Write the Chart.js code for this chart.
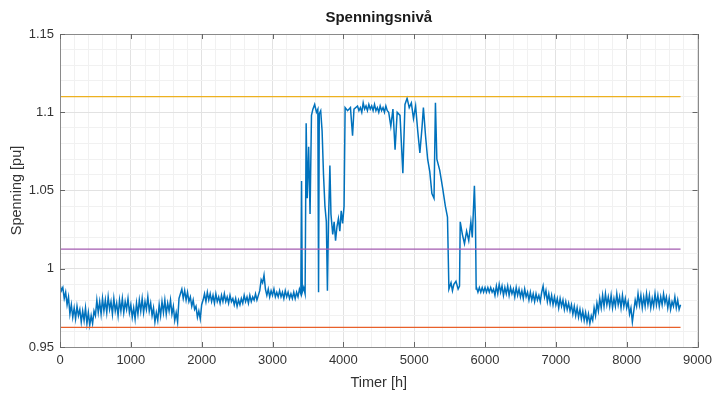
<!DOCTYPE html>
<html>
<head>
<meta charset="utf-8">
<script src="https://cdn.jsdelivr.net/npm/chart.js@4"></script>
<style>
html,body{margin:0;padding:0;background:#fff;overflow:hidden;}
canvas{display:block;}
</style>
</head>
<body>
<canvas id="mycanvas" width="718" height="393"></canvas>
<script>
// values (hour, voltage in pu), in three parts

// part 1: before the high period
var hoursA = [0,20,40,60,80,100,120,140,160,180,200,220,240,260,280,300,320,340,360,380,400,420,440,460,480,500,520,540,560,580,600,620,640,660,680,700,720,740,760,780,800,820,840,860,880,900,920,940,960,980,
  1000,1020,1040,1060,1080,1100,1120,1140,1160,1180,1200,1220,1240,1260,1280,1300,1320,1340,1360,1380,1400,1420,1440,1460,1480,1500,1520,1540,1560,1580,1600,1620,1640,1660,1680,1700,1720,1740,1760,1780,1800,1820,1840,1860,1880,1900,1920,1940,1960,1980,
  2000,2020,2040,2060,2080,2100,2120,2140,2160,2180,2200,2220,2240,2260,2280,2300,2320,2340,2360,2380,2400,2420,2440,2460,2480,2500,2520,2540,2560,2580,2600,2620,2640,2660,2680,2700,2720,2740,2760,2780,2800,2820,2840,2860,2880,2900,2920,2940,2960,2980,
  3000,3020,3040,3060,3080,3100,3120,3140,3160,3180,3200,3220,3240,3260,3280,3300,3320,3340,3360,3380,3400];
var spenningA = [0.990,0.986,0.988,0.981,0.985,0.977,0.982,0.971,0.977,0.969,0.975,0.968,0.976,0.970,0.974,0.966,0.973,0.967,0.975,0.965,0.972,0.964,0.970,0.965,0.973,0.970,0.980,0.972,0.979,0.971,0.981,0.973,0.980,0.972,0.982,0.974,0.979,0.971,0.981,0.973,0.978,0.970,0.980,0.973,0.981,0.972,0.979,0.974,0.981,0.972,
  0.977,0.969,0.975,0.968,0.978,0.971,0.980,0.973,0.981,0.972,0.979,0.974,0.982,0.973,0.978,0.970,0.975,0.966,0.972,0.967,0.977,0.970,0.979,0.972,0.980,0.971,0.978,0.973,0.980,0.971,0.976,0.967,0.972,0.966,0.981,0.984,0.987,0.981,0.986,0.980,0.985,0.979,0.982,0.976,0.980,0.974,0.976,0.969,0.973,0.968,
  0.977,0.980,0.984,0.979,0.985,0.980,0.984,0.979,0.983,0.978,0.984,0.979,0.982,0.978,0.983,0.979,0.984,0.979,0.982,0.978,0.983,0.979,0.981,0.977,0.981,0.976,0.980,0.977,0.981,0.978,0.983,0.979,0.982,0.978,0.983,0.979,0.982,0.980,0.984,0.980,0.983,0.986,0.993,0.991,0.996,0.987,0.983,0.987,0.982,0.986,
  0.983,0.987,0.982,0.985,0.982,0.986,0.982,0.985,0.981,0.986,0.982,0.985,0.981,0.984,0.981,0.985,0.981,0.985,0.982,0.987,0.984];

// part 2: the high period with jumps
var hoursB = [3410,3420,3440,3460,3475,3490,3510,3530,3550,3570,3595,3620,3640,3650,3660,3680,3700,3720,3740,3760,3775,3790,3810,3825,3850,3870,3890,3910,3930,3950,3970,3990,4010,
  4025,4060,4100,4130,4150,4200,4220,4240,4260,4280,4300,4320,4340,4360,4380,4400,4420,4440,4460,4480,4500,4520,4540,4560,4580,4600,4620,4640,4670,4700,4730,4760,4800,4840,4870,4900,4930,4960,4990,5020,5050,5080,5110,5130,5160,5190,5220,5250,5280,5300,5320,5360,5400,5440,5470,
  5490,5520,5540,5560,5590,5620,5640,5650,5680,5710,5740,5770,5800,5820,5850,5865,5875];
var spenningB = [1.056,0.985,0.988,0.984,1.093,1.045,1.078,1.035,1.098,1.102,1.105,1.100,1.102,0.985,1.099,1.101,1.088,1.060,1.040,1.030,0.986,1.030,1.066,1.035,1.022,1.030,1.018,1.027,1.032,1.024,1.037,1.029,1.040,
  1.103,1.101,1.103,1.085,1.102,1.104,1.101,1.103,1.100,1.106,1.102,1.104,1.101,1.105,1.102,1.104,1.101,1.105,1.101,1.103,1.100,1.104,1.101,1.103,1.100,1.104,1.101,1.100,1.091,1.102,1.076,1.100,1.098,1.061,1.105,1.109,1.103,1.106,1.096,1.104,1.088,1.074,1.090,1.103,1.085,1.070,1.062,1.048,1.045,1.106,1.070,1.063,1.052,1.040,1.033,
  0.987,0.991,0.986,0.990,0.992,0.987,0.989,1.030,1.022,1.016,1.024,1.018,1.030,1.020,1.053,1.030,0.987];

// part 3: after the high period
var hoursC = [5880,5900,5920,5940,5960,5980,6000,6020,6040,6060,6080,6100,6120,6140,6160,6180,6200,6220,6240,6260,6280,6300,6320,6340,6360,6380,6400,6420,6440,6460,6480,6500,6520,6540,6560,6580,6600,6620,6640,6660,6680,6700,6720,6740,6760,6780,6800,6820,6840,6860,6880,6900,6920,6940,6960,6980,
  7000,7020,7040,7060,7080,7100,7120,7140,7160,7180,7200,7220,7240,7260,7280,7300,7320,7340,7360,7380,7400,7420,7440,7460,7480,7500,7520,7540,7560,7580,7600,7620,7640,7660,7680,7700,7720,7740,7760,7780,7800,7820,7840,7860,7880,7900,7920,7940,7960,7980,
  8000,8020,8040,8060,8080,8100,8120,8140,8160,8180,8200,8220,8240,8260,8280,8300,8320,8340,8360,8380,8400,8420,8440,8460,8480,8500,8520,8540,8560,8580,8600,8620,8640,8660,8680,8700,8720,8740,8760];
var spenningC = [0.988,0.985,0.988,0.985,0.988,0.985,0.988,0.985,0.988,0.985,0.988,0.985,0.987,0.983,0.989,0.984,0.990,0.985,0.989,0.983,0.988,0.984,0.989,0.983,0.988,0.984,0.987,0.982,0.988,0.983,0.987,0.982,0.986,0.981,0.987,0.982,0.985,0.980,0.985,0.980,0.984,0.979,0.984,0.980,0.983,0.979,0.985,0.989,0.982,0.986,0.979,0.984,0.978,0.983,0.977,0.982,
  0.977,0.981,0.975,0.981,0.976,0.980,0.974,0.979,0.974,0.978,0.973,0.977,0.971,0.976,0.970,0.975,0.969,0.974,0.968,0.973,0.967,0.972,0.966,0.971,0.965,0.970,0.967,0.975,0.970,0.978,0.973,0.981,0.975,0.983,0.976,0.984,0.977,0.982,0.976,0.983,0.975,0.981,0.976,0.984,0.977,0.982,0.975,0.983,0.976,0.981,
  0.975,0.979,0.971,0.975,0.966,0.973,0.980,0.976,0.984,0.977,0.983,0.975,0.982,0.976,0.984,0.977,0.983,0.975,0.981,0.976,0.984,0.977,0.983,0.976,0.982,0.977,0.984,0.978,0.982,0.975,0.981,0.974,0.979,0.976,0.982,0.975,0.980,0.974,0.977];

// limit lines
var limitStart = 0, limitEnd = 8760;
var upper = 1.11;
var middle = 1.0125;
var lower = 0.9625;

var xTicks = [0,1000,2000,3000,4000,5000,6000,7000,8000,9000];
var yTicks = [0.95,1,1.05,1.1,1.15];

var hours = hoursA.concat(hoursB, hoursC);
var spenning = spenningA.concat(spenningB, spenningC);
var pts = [];
for (var i = 0; i < hours.length; i++) {
  pts.push({x: hours[i], y: spenning[i]});
}
function flat(v){ return [{x: limitStart, y: v}, {x: limitEnd, y: v}]; }

var isMajorY = function(v){ return Math.abs(Math.round(v*100) % 5) === 0; };
var isMajorX = function(v){ return Math.round(v) % 1000 === 0; };

var boxPlugin = {
  id: 'box',
  afterDraw: function(chart){
    var c = chart.ctx, a = chart.chartArea;
    var xs = chart.scales.x, ys = chart.scales.y;
    c.save();
    c.strokeStyle = '#8a8a8a';
    c.lineWidth = 1;
    c.strokeRect(Math.round(a.left)+0.5, Math.round(a.top)+0.5, Math.round(a.right-a.left), Math.round(a.bottom-a.top));
    // inward tick marks
    c.strokeStyle = '#666';
    xTicks.forEach(function(t){
      var px = Math.round(xs.getPixelForValue(t))+0.5;
      c.beginPath(); c.moveTo(px, a.bottom); c.lineTo(px, a.bottom-5);
      c.moveTo(px, a.top); c.lineTo(px, a.top+5); c.stroke();
    });
    yTicks.forEach(function(t){
      var py = Math.round(ys.getPixelForValue(t))+0.5;
      c.beginPath(); c.moveTo(a.left, py); c.lineTo(a.left+5, py);
      c.moveTo(a.right, py); c.lineTo(a.right-5, py); c.stroke();
    });
    // titles
    c.fillStyle = '#1a1a1a';
    c.textAlign = 'center';
    c.textBaseline = 'middle';
    c.font = 'bold 15px "Liberation Sans", Arial, sans-serif';
    c.fillText('Spenningsnivå', (a.left+a.right)/2, 18);
    c.fillStyle = '#333';
    c.font = '14.5px "Liberation Sans", Arial, sans-serif';
    c.fillText('Timer [h]', (a.left+a.right)/2, 383);
    c.translate(17, (a.top+a.bottom)/2);
    c.rotate(-Math.PI/2);
    c.fillText('Spenning [pu]', 0, 0);
    c.restore();
  }
};

var ctx = document.getElementById('mycanvas');
var chart = new Chart(ctx, {
  type: 'line',
  data: {
    datasets: [
      {label: 'spenning', data: pts, borderColor: '#0072BD', borderWidth: 1.5, pointRadius: 0, tension: 0, order: 2},
      {label: 'upper', data: flat(upper), borderColor: '#EDB120', borderWidth: 1.3, pointRadius: 0, order: 1},
      {label: 'middle', data: flat(middle), borderColor: '#A35BB0', borderWidth: 1.3, pointRadius: 0, order: 1},
      {label: 'lower', data: flat(lower), borderColor: '#E8602A', borderWidth: 1.3, pointRadius: 0, order: 1}
    ]
  },
  options: {
    responsive: false,
    animation: false,
    devicePixelRatio: 1,
    layout: {padding: {top: 34, right: 20, left: 0, bottom: 0}},
    plugins: {legend: {display: false}, tooltip: {enabled: false}, title: {display: false}},
    scales: {
      x: {
        type: 'linear', min: 0, max: 9000,
        border: {display: false},
        grid: {
          drawTicks: false,
          color: function(c){ return isMajorX(c.tick.value) ? '#e2e2e2' : '#f1f1f1'; }
        },
        ticks: {
          stepSize: 200, autoSkip: false, maxRotation: 0, padding: 6,
          color: '#333', font: {family: '"Liberation Sans", Arial, sans-serif', size: 13},
          callback: function(v){ return isMajorX(v) ? String(Math.round(v)) : ''; }
        },
        afterFit: function(s){ s.height = 46; }
      },
      y: {
        min: 0.95, max: 1.15,
        border: {display: false},
        grid: {
          drawTicks: false,
          color: function(c){ return isMajorY(c.tick.value) ? '#e2e2e2' : '#f1f1f1'; }
        },
        ticks: {
          stepSize: 0.01, autoSkip: false, padding: 6,
          color: '#333', font: {family: '"Liberation Sans", Arial, sans-serif', size: 13},
          callback: function(v){ return isMajorY(v) ? String(Math.round(v*100)/100) : ''; }
        },
        afterFit: function(s){ s.width = 60; }
      }
    }
  },
  plugins: [boxPlugin]
});
</script>
</body>
</html>
